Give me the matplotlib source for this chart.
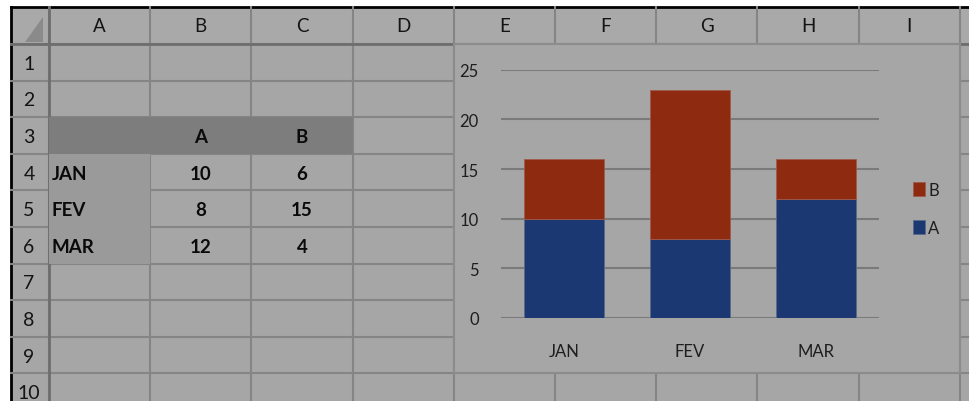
import matplotlib.pyplot as plt
from matplotlib.patches import Rectangle, Polygon

# data shown in the sheet and the chart
months = ['JAN', 'FEV', 'MAR']
a_vals = [10, 8, 12]
b_vals = [6, 15, 4]
series_names = ['A', 'B']
col_letters = ['A', 'B', 'C', 'D', 'E', 'F', 'G', 'H', 'I']
row_numbers = [str(i) for i in range(1, 11)]
y_ticks = [0, 5, 10, 15, 20, 25]

plt.rcParams['font.family'] = ['Lato', 'DejaVu Sans']

W, H = 969, 402
fig = plt.figure(figsize=(W / 100, H / 100), dpi=100)
fig.patch.set_facecolor('white')

# background axes in pixel coordinates for the spreadsheet grid
bg = fig.add_axes([0, 0, 1, 1])
bg.set_xlim(0, W)
bg.set_ylim(H, 0)
bg.axis('off')

cell_bg = '#a6a6a6'
grid_col = '#858585'
x0, y0 = 11, 8            # sheet origin (black frame)
hdr_x, hdr_y = 49, 45     # row-number column / column-header row edges
col_w = 101.2
row_h = 36.6
txt_col = '#141414'

bg.add_patch(Rectangle((x0, y0), W - x0, H - y0, facecolor=cell_bg, edgecolor='none'))
bg.plot([x0, x0], [y0, H], color='black', lw=2)
bg.plot([x0, W], [y0, y0], color='black', lw=2)

col_edges = [hdr_x + i * col_w for i in range(len(col_letters) + 1)]
row_edges = [hdr_y + i * row_h for i in range(len(row_numbers) + 1)]

# header fills
bg.add_patch(Rectangle((x0, y0), W - x0, hdr_y - y0, facecolor='#a9a9a9', edgecolor='none'))
bg.add_patch(Polygon([(43, 18), (43, 43), (25, 43)], closed=True, facecolor='#8a8a8a', edgecolor='none'))

# grid lines
for x in col_edges:
    bg.plot([x, x], [y0, H], color=grid_col, lw=1.5)
for y in row_edges:
    bg.plot([x0, W], [y, y], color=grid_col, lw=1.5)
bg.plot([hdr_x, hdr_x], [y0, H], color='#6e6e6e', lw=2)
bg.plot([x0, W], [hdr_y, hdr_y], color='#6e6e6e', lw=2)

# table header row (row 3) and month column fills
bg.add_patch(Rectangle((col_edges[0], row_edges[2]), 3 * col_w, row_h,
                       facecolor='#7d7d7d', edgecolor='none', zorder=3))
bg.add_patch(Rectangle((col_edges[0], row_edges[3]), col_w, 3 * row_h,
                       facecolor='#9a9a9a', edgecolor='none', zorder=3))

# column letters and row numbers
for i, c in enumerate(col_letters):
    bg.text((col_edges[i] + col_edges[i + 1]) / 2, 27, c, ha='center', va='center',
            fontsize=13.5, color=txt_col)
for i, r in enumerate(row_numbers):
    bg.text(29, (row_edges[i] + row_edges[i + 1]) / 2 + 1, r, ha='center', va='center',
            fontsize=14, color=txt_col)

# table contents
for j, name in enumerate(series_names):
    bg.text((col_edges[j + 1] + col_edges[j + 2]) / 2, (row_edges[2] + row_edges[3]) / 2 + 1,
            name, ha='center', va='center', fontsize=13.5, fontweight='bold', color='#0a0a0a', zorder=4)
for i, m in enumerate(months):
    yc = (row_edges[3 + i] + row_edges[4 + i]) / 2 + 1
    bg.text(col_edges[0] + 3, yc, m, ha='left', va='center', fontsize=13.5,
            fontweight='bold', color='#0a0a0a', zorder=4)
    bg.text((col_edges[1] + col_edges[2]) / 2, yc, str(a_vals[i]), ha='center', va='center',
            fontsize=13.5, fontweight='bold', color='#0a0a0a', zorder=4)
    bg.text((col_edges[2] + col_edges[3]) / 2, yc, str(b_vals[i]), ha='center', va='center',
            fontsize=13.5, fontweight='bold', color='#0a0a0a', zorder=4)

# chart area covering E1:I9
bg.add_patch(Rectangle((col_edges[4], row_edges[0]), 5 * col_w, 9 * row_h,
                       facecolor=cell_bg, edgecolor='#8c8c8c', lw=1.5, zorder=5))

# chart plot area
ax = fig.add_axes([501 / W, (H - 319) / H, (879 - 501) / W, (319 - 70.7) / H])
ax.set_facecolor('none')
ax.set_zorder(6)
red, blue = '#8e2a10', '#1c3872'
xs = range(len(months))
hb_a = ax.bar(xs, a_vals, width=0.64, color=blue, edgecolor='#5a6a8a', lw=0.6, zorder=3, label='A')
hb_b = ax.bar(xs, b_vals, bottom=a_vals, width=0.64, color=red, edgecolor='#a05a4a', lw=0.6,
              zorder=3, label='B')
ax.set_xlim(-0.5, 2.5)
ax.set_ylim(0, 25)
ax.set_yticks(y_ticks)
ax.yaxis.grid(True, color='#7a7a7a', lw=1.5, zorder=0)
ax.set_xticks(list(xs))
ax.set_xticklabels(months)
for s in ax.spines.values():
    s.set_visible(False)
ax.tick_params(length=0, labelsize=12, colors='#1e1e1e')
ax.tick_params(axis='x', pad=18)
ax.tick_params(axis='y', pad=16)

leg = fig.legend([hb_b, hb_a], ['B', 'A'], loc='center left',
                 bbox_to_anchor=(898 / W, 1 - 210 / H), frameon=False, fontsize=12,
                 handlelength=0.7, handleheight=0.9, handletextpad=0.2, labelspacing=1.3)
for t in leg.get_texts():
    t.set_color('#1e1e1e')
leg.set_zorder(7)

fig.savefig('out.png', dpi=100, facecolor='white')
